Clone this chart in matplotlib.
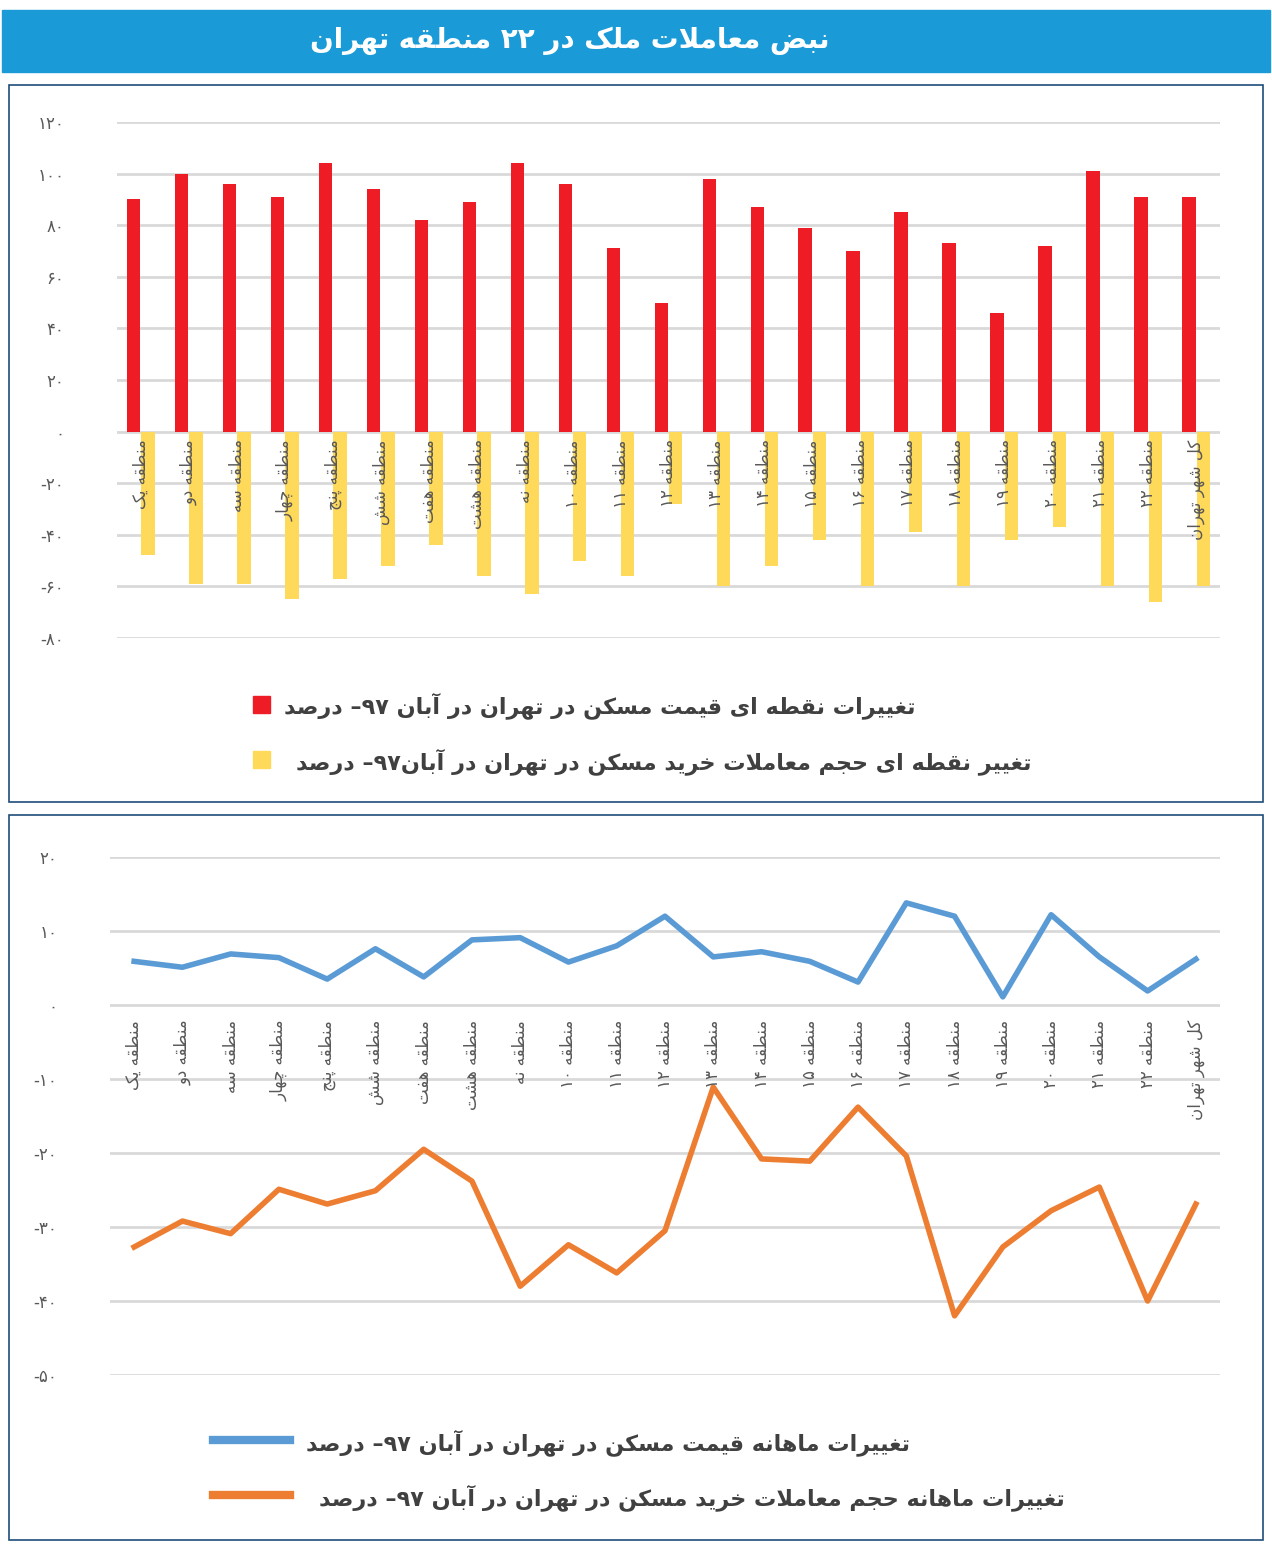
import matplotlib
matplotlib.use("Agg")
import matplotlib.pyplot as plt
from matplotlib.patches import Rectangle
from matplotlib.lines import Line2D

# --- minimal Persian shaper (presentation forms + visual reversal) ---
FORMS = {
    'ا': (0xFE8D, 0xFE8E), 'آ': (0xFE81, 0xFE82), 'د': (0xFEA9, 0xFEAA), 'ذ': (0xFEAB, 0xFEAC),
    'ر': (0xFEAD, 0xFEAE), 'ز': (0xFEAF, 0xFEB0), 'و': (0xFEED, 0xFEEE), 'ژ': (0xFB8A, 0xFB8B),
    'ب': (0xFE8F, 0xFE90, 0xFE91, 0xFE92), 'ت': (0xFE95, 0xFE96, 0xFE97, 0xFE98),
    'ث': (0xFE99, 0xFE9A, 0xFE9B, 0xFE9C),
    'ج': (0xFE9D, 0xFE9E, 0xFE9F, 0xFEA0), 'ح': (0xFEA1, 0xFEA2, 0xFEA3, 0xFEA4),
    'خ': (0xFEA5, 0xFEA6, 0xFEA7, 0xFEA8), 'س': (0xFEB1, 0xFEB2, 0xFEB3, 0xFEB4),
    'ش': (0xFEB5, 0xFEB6, 0xFEB7, 0xFEB8), 'ص': (0xFEB9, 0xFEBA, 0xFEBB, 0xFEBC),
    'ض': (0xFEBD, 0xFEBE, 0xFEBF, 0xFEC0), 'ط': (0xFEC1, 0xFEC2, 0xFEC3, 0xFEC4),
    'ع': (0xFEC9, 0xFECA, 0xFECB, 0xFECC), 'غ': (0xFECD, 0xFECE, 0xFECF, 0xFED0),
    'ف': (0xFED1, 0xFED2, 0xFED3, 0xFED4),
    'ق': (0xFED5, 0xFED6, 0xFED7, 0xFED8), 'ل': (0xFEDD, 0xFEDE, 0xFEDF, 0xFEE0),
    'م': (0xFEE1, 0xFEE2, 0xFEE3, 0xFEE4), 'ن': (0xFEE5, 0xFEE6, 0xFEE7, 0xFEE8),
    'ه': (0xFEE9, 0xFEEA, 0xFEEB, 0xFEEC), 'ی': (0xFBFC, 0xFBFD, 0xFBFE, 0xFBFF),
    'ک': (0xFB8E, 0xFB8F, 0xFB90, 0xFB91), 'پ': (0xFB56, 0xFB57, 0xFB58, 0xFB59),
    'چ': (0xFB7A, 0xFB7B, 0xFB7C, 0xFB7D), 'گ': (0xFB92, 0xFB93, 0xFB94, 0xFB95),
}


def fa_digits(s):
    return ''.join(chr(0x06F0 + int(c)) if c.isdigit() and c.isascii() else c for c in str(s))


def shape(text):
    text = fa_digits(text)
    out = []
    n = len(text)
    i = 0
    while i < n:
        c = text[i]
        if c not in FORMS:
            out.append(c)
            i += 1
            continue
        prev = text[i - 1] if i > 0 else ''
        joins_prev = prev in FORMS and len(FORMS[prev]) == 4
        # lam-alef ligature
        if c == 'ل' and i + 1 < n and text[i + 1] == 'ا':
            out.append(chr(0xFEFC if joins_prev else 0xFEFB))
            i += 2
            continue
        nxt = text[i + 1] if i + 1 < n else ''
        f = FORMS[c]
        joins_next = len(f) == 4 and nxt in FORMS
        if joins_prev and joins_next:
            g = f[3]
        elif joins_prev:
            g = f[1]
        elif joins_next:
            g = f[2]
        else:
            g = f[0]
        out.append(chr(g))
        i += 1
    vis = out[::-1]
    # keep digit runs left-to-right
    res, run = [], []
    for ch in vis:
        if '\u06F0' <= ch <= '\u06F9':
            run.append(ch)
        else:
            res.extend(run[::-1]); run = []
            res.append(ch)
    res.extend(run[::-1])
    return ''.join(res)


# --- data ---
regions = ["منطقه یک", "منطقه دو", "منطقه سه", "منطقه چهار", "منطقه پنج", "منطقه شش",
           "منطقه هفت", "منطقه هشت", "منطقه نه"] + [f"منطقه {k}" for k in range(10, 23)] + ["کل شهر تهران"]
price_yoy = [90, 100, 96, 91, 104, 94, 82, 89, 104, 96, 71, 50, 98, 87, 79, 70, 85, 73, 46, 72, 101, 91, 91]
volume_yoy = [-48, -59, -59, -65, -57, -52, -44, -56, -63, -50, -56, -28, -60, -52, -42, -60, -39, -60,
              -42, -37, -60, -66, -60]
price_mom = [5.9, 5.1, 6.9, 6.4, 3.5, 7.6, 3.8, 8.8, 9.1, 5.8, 8.0, 12.0, 6.5, 7.2, 5.9, 3.1, 13.8, 12.0,
             1.1, 12.2, 6.5, 1.9, 6.2]
volume_mom = [-32.7, -29.2, -30.9, -24.9, -26.9, -25.1, -19.5, -23.8, -38.0, -32.4, -36.2, -30.5, -11.1,
              -20.8, -21.1, -13.8, -20.4, -42.0, -32.7, -27.8, -24.6, -40.0, -26.9]

title = "نبض معاملات ملک در 22 منطقه تهران"
leg1 = ["تغییرات نقطه ای قیمت مسکن در تهران در آبان 97– درصد",
        "تغییر نقطه ای حجم معاملات خرید مسکن در تهران در آبان97– درصد"]
leg2 = ["تغییرات ماهانه قیمت مسکن در تهران در آبان 97– درصد",
        "تغییرات ماهانه حجم معاملات خرید مسکن در تهران در آبان 97– درصد"]

RED, YEL, BLUE, ORANGE = "#ee1c25", "#ffd95a", "#5b9bd5", "#ed7d31"
GRID, TXT = "#d9d9d9", "#595959"
plt.rcParams["font.family"] = "DejaVu Sans"

W, H = 1272, 1549
fig = plt.figure(figsize=(W / 100, H / 100), dpi=100)


def fx(x): return x / W
def fy(y): return 1 - y / H


# title bar
fig.patches.append(Rectangle((fx(2), fy(72)), fx(1268), 62 / H, transform=fig.transFigure,
                             color="#1a9ad6", zorder=0))
fig.text(fx(570), fy(41), shape(title), color="white", fontsize=20, fontweight="bold",
         ha="center", va="center")
# panel borders
for y0, y1 in [(85, 802), (815, 1540)]:
    fig.patches.append(Rectangle((fx(9), fy(y1)), fx(1254), (y1 - y0) / H, transform=fig.transFigure,
                                 fill=False, ec="#1f4e79", lw=1.2))


def make_axes(x0, x1, y0, y1):
    ax = fig.add_axes([fx(x0), fy(y1), (x1 - x0) / W, (y1 - y0) / H])
    for s in ax.spines.values():
        s.set_visible(False)
    ax.set_xticks([])
    ax.tick_params(axis="y", length=0, pad=38, labelsize=12, labelcolor=TXT)
    ax.set_xlim(-0.5, len(regions) - 0.5)
    return ax


x = list(range(len(regions)))

# top chart
ax1 = make_axes(117, 1220, 122, 638)
ax1.set_ylim(-80, 120)
ticks1 = list(range(-80, 121, 20))
for t in ticks1:
    ax1.axhline(t, color=GRID, lw=2, zorder=0)
ax1.set_yticks(ticks1)
ax1.set_yticklabels([fa_digits(t) for t in ticks1])
ax1.bar([i - 0.15 for i in x], price_yoy, width=0.28, color=RED, zorder=2)
ax1.bar([i + 0.15 for i in x], volume_yoy, width=0.28, color=YEL, zorder=2)
for i, r in enumerate(regions):
    ax1.text(i, -3, shape(r), rotation=90, ha="center", va="top", fontsize=12, color=TXT, zorder=3)

# bottom chart
ax2 = make_axes(110, 1220, 857, 1375)
ax2.set_ylim(-50, 20)
ticks2 = list(range(-50, 21, 10))
for t in ticks2:
    ax2.axhline(t, color=GRID, lw=2, zorder=0)
ax2.set_yticks(ticks2)
ax2.set_yticklabels([fa_digits(t) for t in ticks2])
ax2.plot(x, price_mom, color=BLUE, lw=4, zorder=2)
ax2.plot(x, volume_mom, color=ORANGE, lw=4, zorder=2)
for i, r in enumerate(regions):
    ax2.text(i, -2, shape(r), rotation=90, ha="center", va="top", fontsize=12, color=TXT, zorder=3)

# legends
fig.patches.append(Rectangle((fx(253), fy(713)), 17 / W, 17 / H, transform=fig.transFigure, color=RED))
fig.patches.append(Rectangle((fx(253), fy(768)), 17 / W, 17 / H, transform=fig.transFigure, color=YEL))
fig.text(fx(915), fy(706), shape(leg1[0]), ha="right", va="center", fontsize=16, fontweight="bold", color="#404040")
fig.text(fx(1032), fy(762), shape(leg1[1]), ha="right", va="center", fontsize=16, fontweight="bold", color="#404040")
fig.lines.append(Line2D([fx(213), fx(290)], [fy(1440)] * 2, transform=fig.transFigure, color=BLUE, lw=6))
fig.lines.append(Line2D([fx(213), fx(290)], [fy(1495)] * 2, transform=fig.transFigure, color=ORANGE, lw=6))
fig.text(fx(910), fy(1443), shape(leg2[0]), ha="right", va="center", fontsize=16, fontweight="bold", color="#404040")
fig.text(fx(1065), fy(1498), shape(leg2[1]), ha="right", va="center", fontsize=16, fontweight="bold", color="#404040")

fig.savefig("out.png", dpi=100, facecolor="white")
